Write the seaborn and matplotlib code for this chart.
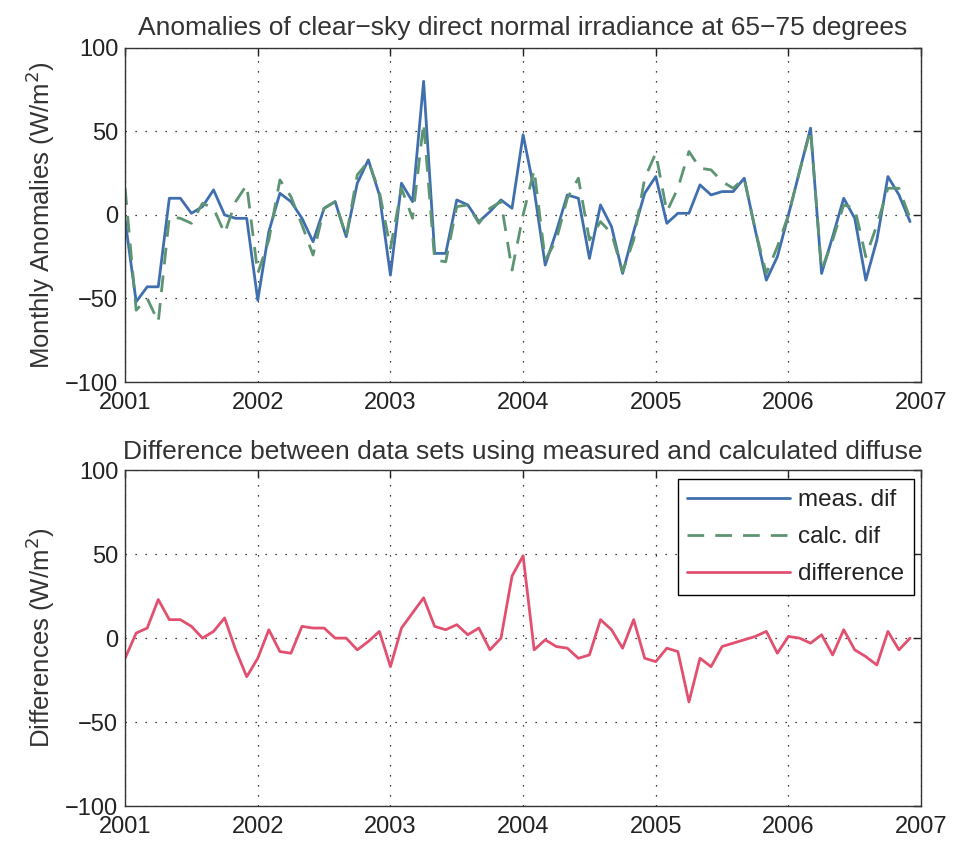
import numpy as np
import pandas as pd
import matplotlib
matplotlib.use("Agg")
import matplotlib.pyplot as plt
import seaborn as sns

# Monthly values, Jan 2001 .. Dec 2006
meas_dif = [-3, -52, -43, -43, 10, 10, 1, 5, 15, 0, -2, -2,
            -51, -10, 13, 8, -2, -16, 4, 8, -13, 19, 33, 12,
            -36, 19, 8, 80, -23, -23, 9, 6, -4, 2, 9, 4,
            48, 15, -30, -10, 12, 10, -26, 6, -7, -35, -10, 13,
            23, -5, 1, 1, 18, 12, 14, 14, 22, -9, -39, -25,
            0, 26, 52, -35, -13, 10, -2, -39, -15, 23, 12, -4]
calc_dif = [16, -57, -50, -64, -1, -2, -5, 7, 4, -11, 8, 18,
            -35, -15, 21, 11, -6, -24, 4, 8, -13, 24, 32, 14,
            -20, 16, -2, 55, -27, -28, 5, 6, -5, 4, 8, -33,
            0, 27, -27, -15, 10, 22, -15, -4, -11, -34, -15, 22,
            37, 2, 16, 38, 28, 27, 20, 16, 22, -9, -35, -19,
            0, 26, 51, -33, -15, 6, 4, -25, -6, 16, 16, -2]
difference = [-12, 3, 6, 23, 11, 11, 7, 0, 4, 12, -7, -23,
              -12, 5, -8, -9, 7, 6, 6, 0, 0, -7, -2, 4,
              -17, 6, 15, 24, 7, 5, 8, 2, 6, -7, 0, 37,
              49, -7, -1, -5, -6, -12, -10, 11, 5, -6, 11, -12,
              -14, -6, -8, -38, -12, -17, -5, -3, -1, 1, 4, -9,
              1, 0, -3, 2, -10, 5, -7, -11, -16, 4, -7, 0]
start_year = 2001
years = list(range(2001, 2008))
yticks = [-100, -50, 0, 50, 100]

t = start_year + np.arange(len(meas_dif)) / 12.0
df = pd.DataFrame({"t": t, "meas": meas_dif, "calc": calc_dif, "diff": difference})

sns.set_style("white")
plt.rcParams['font.family'] = ['Liberation Sans', 'DejaVu Sans']

fig = plt.figure(figsize=(9.55, 8.48), dpi=100)
ax1 = fig.add_axes([0.131, 0.5495, 0.8335, 0.394])
ax2 = fig.add_axes([0.131, 0.0495, 0.8335, 0.396])

blue = "#3f6fae"
green = "#5d9472"
pink = "#e2506f"

sns.lineplot(data=df, x="t", y="meas", ax=ax1, color=blue, lw=2.0, label="meas. dif")
sns.lineplot(data=df, x="t", y="calc", ax=ax1, color=green, lw=2.0, label="calc. dif",
             linestyle=(0, (6, 4)))
sns.lineplot(data=df, x="t", y="diff", ax=ax2, color=pink, lw=2.0, label="difference")

h1, l1 = ax1.get_legend_handles_labels()
h2, l2 = ax2.get_legend_handles_labels()
ax1.get_legend().remove()
leg = ax2.legend(h1 + h2, l1 + l2, loc="upper right", fontsize=17.5, frameon=True,
                 fancybox=False, edgecolor="black", framealpha=1, handlelength=4.2,
                 borderpad=0.4, labelspacing=0.62, handletextpad=0.35,
                 borderaxespad=0, bbox_to_anchor=(0.991, 0.973))
leg.get_frame().set_linewidth(1.0)
for txt in leg.get_texts():
    txt.set_color("#222222")

for ax, ylab, title, tpad in [
    (ax1, "Monthly Anomalies (W/m$^2$)", "Anomalies of clear\u2212sky direct normal irradiance at 65\u221275 degrees", 9),
    (ax2, "Differences (W/m$^2$)", "Difference between data sets using measured and calculated diffuse", 8),
]:
    ax.set_xlim(2001, 2007)
    ax.set_ylim(-100, 100)
    ax.set_xticks(years)
    ax.set_yticks(yticks)
    ax.set_xticklabels([str(y) for y in years])
    ax.set_yticklabels([str(v).replace("-", "\u2212") for v in yticks])
    ax.grid(True, color="black", linestyle=(0, (1, 7)), linewidth=0.9)
    ax.tick_params(direction="in", length=6, width=1, top=True, right=True,
                   labelsize=17, colors="#222222", pad=5)
    ax.tick_params(axis="x", pad=7)
    for s in ax.spines.values():
        s.set_color("#333333")
        s.set_linewidth(1.0)
    ax.set_xlabel("")
    ax.set_ylabel(ylab, fontsize=18.5, color="#333333", labelpad=6)
    ax.set_title(title, fontsize=19, color="#333333", pad=tpad)

fig.savefig("out.png", dpi=100)
